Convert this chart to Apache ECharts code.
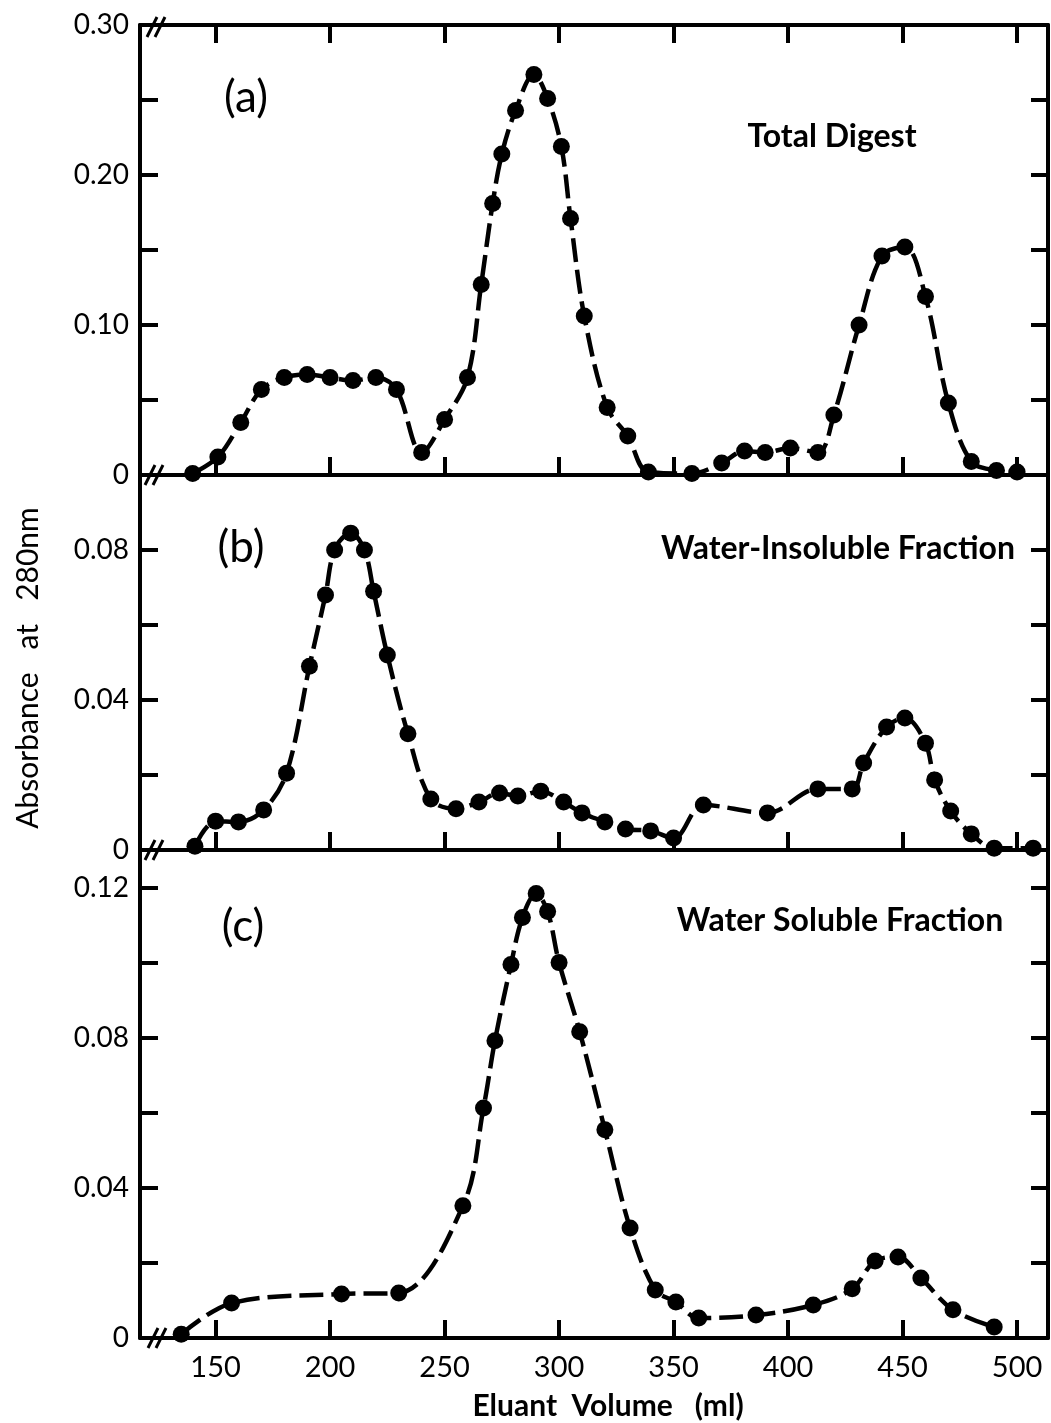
<!DOCTYPE html>
<html>
<head>
<meta charset="utf-8">
<script src="https://cdn.jsdelivr.net/npm/echarts@6/dist/echarts.min.js"></script>
<style>
html,body{margin:0;padding:0;background:#fff;}
#chart{width:1051px;height:1423px;}
</style>
</head>
<body>
<div id="chart"></div>
<script>
// ---------- data ----------
const volA = [140, 151, 161, 170, 180, 190, 200, 210, 220, 229, 240, 250, 260, 266, 271, 275, 281, 289, 295, 301, 305, 311, 321, 330, 339, 358, 371, 381, 390, 401, 413, 420, 431, 441, 451, 460, 470, 480, 491, 500];
const absA = [0.001, 0.012, 0.035, 0.057, 0.065, 0.067, 0.065, 0.063, 0.065, 0.057, 0.015, 0.037, 0.065, 0.127, 0.181, 0.214, 0.243, 0.267, 0.251, 0.219, 0.171, 0.106, 0.045, 0.026, 0.002, 0.001, 0.008, 0.016, 0.015, 0.018, 0.015, 0.040, 0.100, 0.146, 0.152, 0.119, 0.048, 0.009, 0.003, 0.002];

const volB = [141, 150, 160, 171, 181, 191, 198, 202, 209, 215, 219, 225, 234, 244, 255, 265, 274, 282, 292, 302, 310, 320, 329, 340, 350, 363, 391, 413, 428, 433, 443, 451, 460, 464, 471, 480, 490, 507];
const absB = [0.001, 0.0077, 0.0075, 0.0107, 0.0205, 0.049, 0.068, 0.080, 0.0845, 0.080, 0.069, 0.052, 0.031, 0.0136, 0.011, 0.0128, 0.0152, 0.0144, 0.0157, 0.0128, 0.0099, 0.0075, 0.0056, 0.0051, 0.0032, 0.012, 0.0099, 0.0163, 0.0163, 0.0232, 0.0328, 0.0352, 0.0285, 0.0187, 0.0104, 0.0043, 0.0005, 0.0005];

const volC = [135, 157, 205, 230, 258, 267, 272, 279, 284, 290, 295, 300, 309, 320, 331, 342, 351, 361, 386, 411, 428, 438, 448, 458, 472, 490];
const absC = [0.001, 0.0093, 0.0117, 0.012, 0.0352, 0.0613, 0.0792, 0.0995, 0.112, 0.1184, 0.1136, 0.100, 0.0816, 0.0555, 0.0293, 0.0128, 0.0096, 0.0053, 0.0061, 0.0088, 0.0131, 0.0205, 0.0216, 0.016, 0.0075, 0.0029];

const xTicks = [150, 200, 250, 300, 350, 400, 450, 500];
const yTicksA = [0, 0.05, 0.10, 0.15, 0.20, 0.25, 0.30];
const yLabelsA = [0, 0.10, 0.20, 0.30];
const yTicksB = [0, 0.02, 0.04, 0.06, 0.08];
const yLabelsB = [0, 0.04, 0.08];
const yTicksC = [0, 0.02, 0.04, 0.06, 0.08, 0.10, 0.12];
const yLabelsC = [0, 0.04, 0.08, 0.12];

const panelLabels = ['(a)', '(b)', '(c)'];
const panelTitles = ['Total Digest', 'Water-Insoluble Fraction', 'Water Soluble Fraction'];
const yTitle = 'Absorbance   at   280nm';
const xTitle = 'Eluant  Volume   (ml)';

// ---------- chart ----------
const FONT = 'Lato';
const X_MIN = 117, X_MAX = 513.5;
const grids = [
  {left: 140, top: 25, width: 908, height: 450},
  {left: 140, top: 475, width: 908, height: 375},
  {left: 140, top: 850, width: 908, height: 488}
];
const yMax = [0.30, 0.10, 0.13];
const yTicks = [yTicksA, yTicksB, yTicksC];
const yLabels = [yLabelsA, yLabelsB, yLabelsC];

const lineW = 4;
function fmt(v) { return v === 0 ? '0' : v.toFixed(2); }

const xAxis = [];
for (let i = 0; i < 3; i++) {
  xAxis.push({
    type: 'value', gridIndex: i, position: 'bottom', min: X_MIN, max: X_MAX,
    axisLine: {show: true, onZero: false, lineStyle: {color: '#000', width: lineW}},
    axisTick: {show: true, inside: true, length: 18, lineStyle: {color: '#000', width: 4}, customValues: xTicks},
    axisLabel: {show: i === 2, customValues: xTicks, color: '#000', fontFamily: FONT, fontSize: 29, margin: 15},
    splitLine: {show: false}
  });
}
xAxis.push({
  type: 'value', gridIndex: 0, position: 'top', min: X_MIN, max: X_MAX,
  axisLine: {show: true, onZero: false, lineStyle: {color: '#000', width: lineW}},
  axisTick: {show: true, inside: true, length: 18, lineStyle: {color: '#000', width: 4}, customValues: xTicks},
  axisLabel: {show: false}, splitLine: {show: false}
});

const yAxis = [];
for (let i = 0; i < 3; i++) {
  yAxis.push({
    type: 'value', gridIndex: i, position: 'left', min: 0, max: yMax[i],
    axisLine: {show: true, onZero: false, lineStyle: {color: '#000', width: lineW}},
    axisTick: {show: true, inside: true, length: 18, lineStyle: {color: '#000', width: 4}, customValues: yTicks[i]},
    axisLabel: {show: true, customValues: yLabels[i], formatter: fmt, color: '#000', fontFamily: FONT, fontSize: 28, margin: 11},
    splitLine: {show: false}
  });
}
for (let i = 0; i < 3; i++) {
  yAxis.push({
    type: 'value', gridIndex: i, position: 'right', min: 0, max: yMax[i],
    axisLine: {show: true, onZero: false, lineStyle: {color: '#000', width: lineW}},
    axisTick: {show: true, inside: true, length: 17, lineStyle: {color: '#000', width: 4}, customValues: yTicks[i]},
    axisLabel: {show: false}, splitLine: {show: false}
  });
}

function pairs(xs, ys) { return xs.map((x, k) => [x, ys[k]]); }
const seriesData = [pairs(volA, absA), pairs(volB, absB), pairs(volC, absC)];
const series = seriesData.map((d, i) => ({
  type: 'line', xAxisIndex: i, yAxisIndex: i, data: d,
  smooth: 0.35, clip: false,
  symbol: 'circle', symbolSize: 17,
  itemStyle: {color: '#000'},
  lineStyle: {color: '#000', width: 4.5, type: [24, 8]},
  z: 5
}));

// decorations
const graphic = [];
const labelPos = [[246, 98], [241, 548], [243, 927]];
const titlePos = [[832, 137], [838, 549], [840, 921]];
for (let i = 0; i < 3; i++) {
  graphic.push({type: 'text', x: labelPos[i][0], y: labelPos[i][1],
    style: {text: panelLabels[i], fill: '#000', font: '44px ' + FONT, textAlign: 'center', textVerticalAlign: 'middle'}});
  graphic.push({type: 'text', x: titlePos[i][0], y: titlePos[i][1],
    style: {text: panelTitles[i], fill: '#000', font: 'bold 32px ' + FONT, textAlign: 'center', textVerticalAlign: 'middle'}});
}
graphic.push({type: 'text', x: 28, y: 668, rotation: Math.PI / 2,
  style: {text: yTitle, fill: '#000', font: '30px ' + FONT, textAlign: 'center', textVerticalAlign: 'middle'}});
graphic.push({type: 'text', x: 608, y: 1406,
  style: {text: xTitle, fill: '#000', font: 'bold 30px ' + FONT, textAlign: 'center', textVerticalAlign: 'middle'}});

// axis-break marks "//"
const breaks = [[152, 27], [150, 475], [150, 850], [153, 1338]];
breaks.forEach(b => {
  [0, 8].forEach(dx => {
    graphic.push({type: 'line', shape: {x1: b[0] + dx - 5, y1: b[1] + 10, x2: b[0] + dx + 5, y2: b[1] - 10},
      style: {stroke: '#000', lineWidth: 3}, z: 10});
  });
});

const chart = echarts.init(document.getElementById('chart'), null, {renderer: 'canvas'});
chart.setOption({
  backgroundColor: '#fff',
  animation: false,
  grid: grids,
  xAxis: xAxis,
  yAxis: yAxis,
  series: series,
  graphic: graphic
});
</script>
</body>
</html>
